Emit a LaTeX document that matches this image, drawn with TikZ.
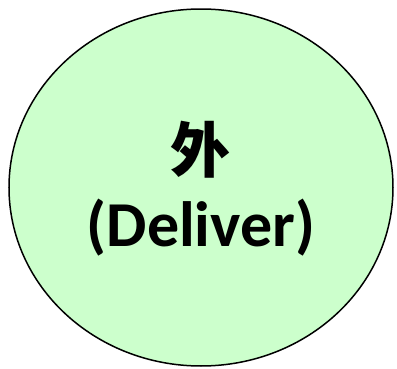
\documentclass[tikz,border=0pt]{standalone}
\usepackage{fontspec}
\setmainfont{Carlito}
\newfontfamily\cjkfont{Noto Sans CJK SC}
\usetikzlibrary{shapes.geometric}

\begin{document}
\begin{tikzpicture}[
        x=1pt, y=1pt,
        thick,
        phase/.style={draw, ellipse, line width=1.5pt, fill=green!20, minimum width=384pt, minimum height=357pt, inner sep=0pt},
        phaselabel/.style={font=\bfseries\fontsize{64}{74}\selectfont, align=center}
    ]
        % Page frame
        \useasboundingbox (0,0) rectangle (397,368);

        % Phase ellipse
        \node (deliver) [phase] at (201,180.5) {};

        % Label
        \node (deliver_label) [phaselabel] at (201,179) {{\cjkfont\fontsize{60}{74}\selectfont 外}\\(Deliver)};
    \end{tikzpicture}
\end{document}
